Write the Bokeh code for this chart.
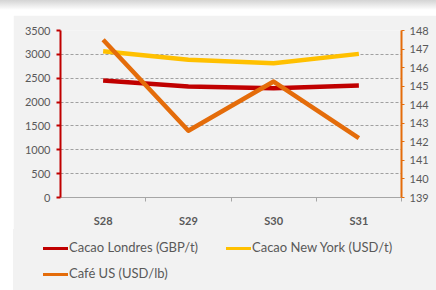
from bokeh.plotting import figure
from bokeh.layouts import column
from bokeh.models import Range1d, LinearAxis, FixedTicker, ColumnDataSource, Div
from bokeh.embed import file_html
from bokeh.resources import INLINE

weeks = ["S28", "S29", "S30", "S31"]
cacao_londres = [2450, 2325, 2290, 2345]
cacao_new_york = [3065, 2885, 2815, 3010]
cafe_us = [147.5, 142.6, 145.25, 142.2]
left_ticks = [0, 500, 1000, 1500, 2000, 2500, 3000, 3500]
right_ticks = [139, 140, 141, 142, 143, 144, 145, 146, 147, 148]
series_names = ["Cacao Londres (GBP/t)", "Cacao New York (USD/t)", "Café US (USD/lb)"]
series_colors = ["#c00000", "#ffc000", "#e46c0a"]

xs = [i + 1 for i in range(len(weeks))]
src = ColumnDataSource(dict(x=xs, lon=cacao_londres, ny=cacao_new_york, cafe=cafe_us))

FONT = "Lato"
TXT = "#595959"
BG = "#f2f2f2"

p = figure(width=423, height=214, output_backend="svg", toolbar_location=None,
           x_range=Range1d(0.5, len(weeks) + 0.5),
           y_range=Range1d(left_ticks[0], left_ticks[-1]),
           min_border_left=47, min_border_right=35, min_border_top=15, min_border_bottom=32)
p.margin = (5, 0, 0, 13)
p.background_fill_color = BG
p.border_fill_color = BG
p.outline_line_color = None

p.extra_y_ranges = {"cafe": Range1d(right_ticks[0], right_ticks[-1])}

# x axis
xa = p.xaxis[0]
xa.ticker = FixedTicker(ticks=xs, minor_ticks=[x + 0.5 for x in xs])
xa.major_label_overrides = {x: w for x, w in zip(xs, weeks)}
xa.major_tick_line_color = None
xa.minor_tick_line_color = "#a6a6a6"
xa.minor_tick_in = 0
xa.minor_tick_out = 4
xa.axis_line_color = "#a6a6a6"
xa.axis_line_width = 1
xa.major_label_text_font = FONT
xa.major_label_text_font_style = "bold"
xa.major_label_text_font_size = "11px"
xa.major_label_text_color = TXT
xa.major_label_standoff = 10

# left axis
ya = p.yaxis[0]
ya.ticker = FixedTicker(ticks=left_ticks)
ya.axis_line_color = series_colors[0]
ya.axis_line_width = 2
ya.major_tick_line_color = series_colors[0]
ya.major_tick_line_width = 2
ya.major_tick_in = 0
ya.major_tick_out = 4
ya.minor_tick_line_color = None
ya.major_label_text_font = FONT
ya.major_label_text_font_size = "11px"
ya.major_label_text_color = TXT
ya.major_label_standoff = 6

# right axis
ra = LinearAxis(y_range_name="cafe", ticker=FixedTicker(ticks=right_ticks))
ra.axis_line_color = series_colors[2]
ra.axis_line_width = 2
ra.major_tick_line_color = series_colors[2]
ra.major_tick_in = 0
ra.major_tick_out = 3
ra.minor_tick_line_color = None
ra.major_label_text_font = FONT
ra.major_label_text_font_size = "11px"
ra.major_label_text_color = TXT
ra.major_label_standoff = 5
p.add_layout(ra, "right")

p.xgrid.grid_line_color = None
p.ygrid.grid_line_color = "#a0a0a0"
p.ygrid.grid_line_dash = "3 2"
p.ygrid.grid_line_width = 1
p.ygrid.ticker = FixedTicker(ticks=left_ticks)

p.line("x", "lon", source=src, line_color=series_colors[0], line_width=4.5, line_join="round")
p.line("x", "ny", source=src, line_color=series_colors[1], line_width=4.5, line_join="round")
p.line("x", "cafe", source=src, line_color=series_colors[2], line_width=4.5,
       line_join="round", y_range_name="cafe")

# top shadow strip
shadow = Div(text="", width=436, height=10, margin=(0, 0, 0, 0),
             styles={"background": "linear-gradient(#d4d4d4, #ffffff)"})

# legend strip: two columns, wrapping to a second row
slots = [(0, 0), (0, 1), (1, 0)]
parts = []
for name, color, (r, c) in zip(series_names, series_colors, slots):
    parts.append(
        f'<div style="position:absolute;left:{30 + 183 * c}px;top:{8 + 26 * r}px;'
        f'height:20px;line-height:20px;white-space:nowrap;font-family:Lato;'
        f'font-size:13px;color:{TXT};">'
        f'<span style="display:inline-block;width:25px;height:3px;background:{color};'
        f'vertical-align:middle;margin-right:1px;"></span>{name}</div>')
legend_div = Div(text='<div style="position:relative;width:423px;height:61px;">' + "".join(parts) + "</div>",
                 width=423, height=61, margin=(0, 0, 0, 13),
                 styles={"background-color": BG})

layout = column(shadow, p, legend_div, spacing=0)
open("out.html", "w").write(file_html(layout, INLINE))
